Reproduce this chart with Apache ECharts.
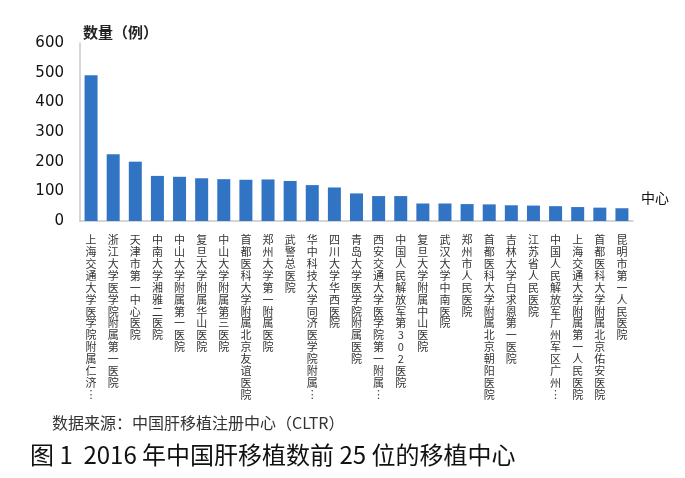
<!DOCTYPE html>
<html>
<head>
<meta charset="utf-8">
<script src="https://cdn.jsdelivr.net/npm/echarts@6/dist/echarts.min.js"></script>
<style>
  html, body { margin: 0; padding: 0; background: #fff; }
  #chart { width: 685px; height: 478px; }
</style>
</head>
<body>
<div id="chart"></div>
<script>
// 医院名称（过长的用…截断，与原图一致）
const centers = [
  "上海交通大学医学院附属仁济…",
  "浙江大学医学院附属第一医院",
  "天津市第一中心医院",
  "中南大学湘雅二医院",
  "中山大学附属第一医院",
  "复旦大学附属华山医院",
  "中山大学附属第三医院",
  "首都医科大学附属北京友谊医院",
  "郑州大学第一附属医院",
  "武警总医院",
  "华中科技大学同济医学院附属…",
  "四川大学华西医院",
  "青岛大学医学院附属医院",
  "西安交通大学医学院第一附属…",
  "中国人民解放军第302医院",
  "复旦大学附属中山医院",
  "武汉大学中南医院",
  "郑州市人民医院",
  "首都医科大学附属北京朝阳医院",
  "吉林大学白求恩第一医院",
  "江苏省人民医院",
  "中国人民解放军广州军区广州…",
  "上海交通大学附属第一人民医院",
  "首都医科大学附属北京佑安医院",
  "昆明市第一人民医院"
];

// 肝移植例数
const cases = [
  491, 225, 200, 152, 149, 144, 141, 139, 140, 135,
  121, 113, 93, 84, 84, 59, 59, 57, 56, 53,
  52, 50, 47, 45, 43
];

const yTicks = { min: 0, max: 600, step: 100 };

const sourceNote = "数据来源：中国肝移植注册中心（CLTR）";
const caption = "图 1  2016 年中国肝移植数前 25 位的移植中心";

const CJK = '"Noto Sans CJK SC", "Noto Sans", sans-serif';

// 竖排：每个字占一行，省略号换成竖排形式
const vertical = (name) =>
  name.replace("…", "︙").split("").join("\n");

const chart = echarts.init(document.getElementById("chart"));

chart.setOption({
  animation: false,
  backgroundColor: "#fff",
  title: [
    {
      text: sourceNote,
      left: 47,
      top: 410,
      textStyle: { fontFamily: CJK, fontSize: 16, fontWeight: "normal", color: "#333" }
    },
    {
      text: caption,
      left: 25,
      top: 438,
      textStyle: { fontFamily: CJK, fontSize: 24, fontWeight: "normal", color: "#111" }
    }
  ],
  grid: { left: 80, right: 52, top: 43, bottom: 257 },
  xAxis: {
    type: "category",
    data: centers,
    name: "中心",
    nameLocation: "end",
    nameGap: 8,
    nameTextStyle: {
      fontFamily: CJK,
      fontSize: 14,
      color: "#111",
      verticalAlign: "bottom",
      align: "left",
      padding: [0, 0, 16, 0]
    },
    axisLine: { lineStyle: { color: "#c8c8c8", width: 1.5 } },
    axisTick: { show: false },
    axisLabel: {
      interval: 0,
      margin: 13,
      fontFamily: CJK,
      fontSize: 11,
      lineHeight: 11.9,
      color: "#333",
      verticalAlign: "top",
      formatter: vertical
    }
  },
  yAxis: {
    type: "value",
    min: yTicks.min,
    max: yTicks.max,
    interval: yTicks.step,
    name: "数量（例）",
    nameLocation: "end",
    nameGap: 3,
    nameTextStyle: {
      fontFamily: CJK,
      fontSize: 15,
      fontWeight: "bold",
      color: "#222",
      align: "left",
      padding: [0, 0, 0, 3]
    },
    axisLine: { show: true, lineStyle: { color: "#c8c8c8", width: 1.5 } },
    axisTick: { show: false },
    splitLine: { show: false },
    axisLabel: {
      margin: 16,
      fontFamily: "DejaVu Sans, sans-serif",
      fontSize: 15,
      color: "#111"
    }
  },
  series: [
    {
      type: "bar",
      data: cases,
      barWidth: 13,
      itemStyle: { color: "#3274c4" }
    }
  ]
});
</script>
</body>
</html>
